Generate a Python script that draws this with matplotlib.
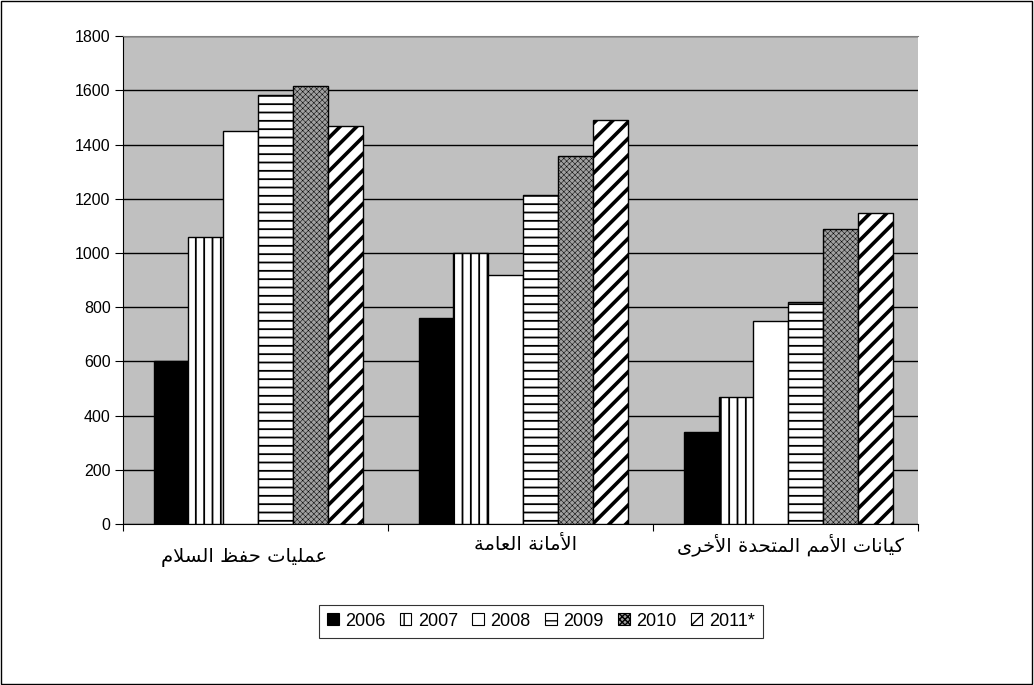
import numpy as np
import matplotlib.pyplot as plt
from matplotlib.patches import Patch, Rectangle

categories = ["عمليات حفظ السلام", "الأمانة العامة", "كيانات الأمم المتحدة الأخرى"]
years = ["2006", "2007", "2008", "2009", "2010", "2011*"]
v2006 = [600, 760, 340]
v2007 = [1060, 1000, 468]
v2008 = [1450, 920, 750]
v2009 = [1585, 1213, 821]
v2010 = [1616, 1357, 1089]
v2011 = [1469, 1491, 1147]
series = [v2006, v2007, v2008, v2009, v2010, v2011]

# simple arabic shaping (matplotlib has no complex text layout)
FORMS = {
    'ا': (0xFE8D, 0xFE8E, None, None), 'أ': (0xFE83, 0xFE84, None, None),
    'ت': (0xFE95, 0xFE96, 0xFE97, 0xFE98), 'ة': (0xFE93, 0xFE94, None, None),
    'ح': (0xFEA1, 0xFEA2, 0xFEA3, 0xFEA4), 'خ': (0xFEA5, 0xFEA6, 0xFEA7, 0xFEA8),
    'د': (0xFEA9, 0xFEAA, None, None), 'ر': (0xFEAD, 0xFEAE, None, None),
    'س': (0xFEB1, 0xFEB2, 0xFEB3, 0xFEB4), 'ظ': (0xFEC5, 0xFEC6, 0xFEC7, 0xFEC8),
    'ع': (0xFEC9, 0xFECA, 0xFECB, 0xFECC), 'ف': (0xFED1, 0xFED2, 0xFED3, 0xFED4),
    'ك': (0xFED9, 0xFEDA, 0xFEDB, 0xFEDC), 'ل': (0xFEDD, 0xFEDE, 0xFEDF, 0xFEE0),
    'م': (0xFEE1, 0xFEE2, 0xFEE3, 0xFEE4), 'ن': (0xFEE5, 0xFEE6, 0xFEE7, 0xFEE8),
    'ى': (0xFEEF, 0xFEF0, None, None), 'ي': (0xFEF1, 0xFEF2, 0xFEF3, 0xFEF4),
}
LAM_ALEF = {'ا': (0xFEFB, 0xFEFC), 'أ': (0xFEF7, 0xFEF8)}


def shape(text):
    tokens = []
    i = 0
    while i < len(text):
        c = text[i]
        if c == 'ل' and i + 1 < len(text) and text[i + 1] in LAM_ALEF:
            tokens.append(('LA', text[i + 1]))
            i += 2
        else:
            tokens.append((c, None))
            i += 1
    res = []
    for k, (c, a) in enumerate(tokens):
        prev = tokens[k - 1][0] if k > 0 else None
        nxt = tokens[k + 1][0] if k + 1 < len(tokens) else None
        joins_prev = prev in FORMS and FORMS[prev][2] is not None
        if c == 'LA':
            iso, fin = LAM_ALEF[a]
            res.append(chr(fin if joins_prev else iso))
            continue
        if c not in FORMS:
            res.append(c)
            continue
        iso, fin, ini, med = FORMS[c]
        joins_next = ini is not None and (nxt in FORMS or nxt == 'LA')
        if joins_prev and joins_next:
            ch = med
        elif joins_prev:
            ch = fin
        elif joins_next:
            ch = ini
        else:
            ch = iso
        res.append(chr(ch))
    return ''.join(reversed(res))


plt.rcParams['font.family'] = ['Liberation Sans', 'DejaVu Sans']

fig = plt.figure(figsize=(10.34, 6.85), dpi=100)
ax = fig.add_axes([0.119, 0.235, 0.769, 0.712])
ax.set_facecolor('#c0c0c0')

styles = [
    dict(color='black', hatch=None, hlw=1.0),
    dict(color='white', hatch='||', hlw=1.3),
    dict(color='white', hatch=None, hlw=1.0),
    dict(color='white', hatch='--', hlw=1.3),
    dict(color='#a0a0a0', hatch='xxxxxx', hlw=0.35),
    dict(color='white', hatch='//', hlw=2.6),
]

x = np.arange(len(categories))
w = 0.79 / 6
handles = []
for j, (vals, st) in enumerate(zip(series, styles)):
    with plt.rc_context({'hatch.linewidth': st['hlw']}):
        bars = ax.bar(x - 0.385 + w * (j + 0.5), vals, w, facecolor=st['color'],
                      edgecolor='black', linewidth=1.0, hatch=st['hatch'], zorder=3)
        for b in bars:
            if hasattr(b, 'set_hatch_linewidth'):
                b.set_hatch_linewidth(st['hlw'])
        h = Patch(facecolor=st['color'], edgecolor='black', hatch=st['hatch'], linewidth=0.8)
        if hasattr(h, 'set_hatch_linewidth'):
            h.set_hatch_linewidth(min(st['hlw'], 1.0))
    handles.append(h)

ax.set_ylim(0, 1800)
ax.set_xlim(-0.5, 2.5)
ax.set_yticks(np.arange(0, 1801, 200))
ax.yaxis.grid(True, color='black', linewidth=1.0)
ax.set_axisbelow(True)
ax.tick_params(axis='y', direction='out', length=6, labelsize=11.5, pad=3)
ax.set_xticks([-0.5, 0.5, 1.5, 2.5])
ax.set_xticklabels([])
ax.tick_params(axis='x', direction='out', length=5)
ax.spines['top'].set_color('#808080')
ax.spines['right'].set_visible(False)

label_y = [-0.068, -0.042, -0.042]
label_dx = [-0.045, 0.02, 0.02]
for i, cat in enumerate(categories):
    ax.text(i + label_dx[i], label_y[i], shape(cat), transform=ax.get_xaxis_transform(),
            ha='center', va='center', fontsize=14, family='DejaVu Sans')

leg = fig.legend(handles, years, loc='center', bbox_to_anchor=(0.523, 0.093), ncol=6,
                 fontsize=13, frameon=True, fancybox=False, edgecolor='black',
                 handlelength=0.65, handleheight=0.65, handletextpad=0.35,
                 columnspacing=0.8, borderpad=0.45)
leg.get_frame().set_linewidth(0.8)

fig.patches.append(Rectangle((0.001, 0.001), 0.997, 0.997, transform=fig.transFigure,
                             fill=False, edgecolor='black', linewidth=1.0))

fig.savefig('out.png', dpi=100)
